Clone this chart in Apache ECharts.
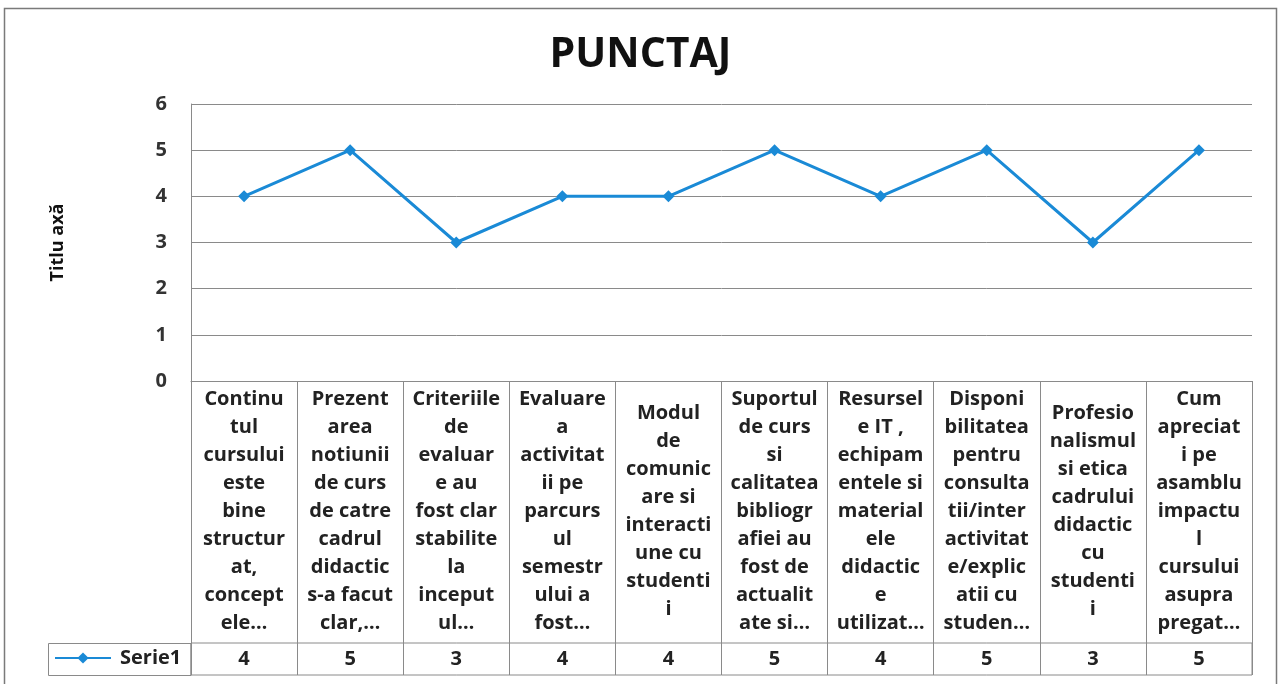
<!DOCTYPE html>
<html>
<head>
<meta charset="utf-8">
<script src="https://cdn.jsdelivr.net/npm/echarts@6/dist/echarts.min.js"></script>
<style>
html,body{margin:0;padding:0;background:#fff;}
#c{width:1281px;height:684px;}
</style>
</head>
<body>
<div id="c"></div>
<script>
const chartTitle = 'PUNCTAJ';
const yAxisTitle = 'Titlu axă';
const seriesName = 'Serie1';
const categories = [
  'Continu\ntul\ncursului\neste\nbine\nstructur\nat,\nconcept\nele…',
  'Prezent\narea\nnotiunii\nde curs\nde catre\ncadrul\ndidactic\ns-a facut\nclar,…',
  'Criteriile\nde\nevaluar\ne au\nfost clar\nstabilite\nla\ninceput\nul…',
  'Evaluare\na\nactivitat\nii pe\nparcurs\nul\nsemestr\nului a\nfost…',
  'Modul\nde\ncomunic\nare si\ninteracti\nune cu\nstudenti\ni',
  'Suportul\nde curs\nsi\ncalitatea\nbibliogr\nafiei au\nfost de\nactualit\nate si…',
  'Resursel\ne IT ,\nechipam\nentele si\nmaterial\nele\ndidactic\ne\nutilizat…',
  'Disponi\nbilitatea\npentru\nconsulta\ntii/inter\nactivitat\ne/explic\natii cu\nstuden…',
  'Profesio\nnalismul\nsi etica\ncadrului\ndidactic\ncu\nstudenti\ni',
  'Cum\napreciat\ni pe\nasamblu\nimpactu\nl\ncursului\nasupra\npregat…'
];
const values = [4, 5, 3, 4, 4, 5, 4, 5, 3, 5];
const yTicks = [0, 1, 2, 3, 4, 5, 6];

const FONT = '"Open Sans", Lato, sans-serif';
const GRIDC = '#8a8a8a';
const LINEC = '#1a8ad6';

const chart = echarts.init(document.getElementById('c'));
chart.setOption({
  backgroundColor: '#fff',
  animation: false,
  title: {
    text: chartTitle, left: 'center', top: 30,
    textStyle: { fontFamily: FONT, fontWeight: 'bold', fontSize: 41, color: '#111' }
  },
  legend: {
    left: 54, top: 648, padding: 0, itemWidth: 56, itemHeight: 14, itemGap: 0,
    data: [seriesName],
    textStyle: { fontFamily: FONT, fontWeight: 'bold', fontSize: 20, color: '#222', padding: [0,0,0,4] }
  },
  grid: [
    { left: 191, right: 29, top: 104, bottom: 303 },
    { left: 191, right: 29, top: 643, bottom: 9, show: true, borderColor: GRIDC, borderWidth: 1 }
  ],
  xAxis: [
    {
      type: 'category', gridIndex: 0, data: categories, boundaryGap: true,
      axisLine: { show: true, lineStyle: { color: GRIDC } },
      axisTick: { show: true, length: 294, lineStyle: { color: GRIDC } },
      axisLabel: {
        interval: 0, margin: 130, verticalAlign: 'middle', lineHeight: 28,
        fontFamily: FONT, fontWeight: 'bold', fontSize: 20, color: '#222'
      }
    },
    {
      type: 'category', gridIndex: 1, data: values.map(String), boundaryGap: true,
      axisLine: { show: false }, axisTick: { show: false },
      axisLabel: {
        interval: 0, inside: true, margin: 16, verticalAlign: 'middle',
        fontFamily: FONT, fontWeight: 'bold', fontSize: 20, color: '#222'
      }
    }
  ],
  yAxis: [
    {
      type: 'value', gridIndex: 0, min: yTicks[0], max: yTicks[yTicks.length - 1], interval: 1,
      name: yAxisTitle, nameLocation: 'middle', nameRotate: 90, nameGap: 124,
      nameTextStyle: { fontFamily: FONT, fontWeight: 'bold', fontSize: 18, color: '#111' },
      axisLine: { show: true, lineStyle: { color: GRIDC } },
      axisTick: { show: false },
      splitLine: { show: true, lineStyle: { color: GRIDC, width: 1 } },
      axisLabel: { margin: 24, fontFamily: FONT, fontWeight: 'bold', fontSize: 20, color: '#333' }
    },
    { type: 'value', gridIndex: 1, show: false, splitLine: { show: false } }
  ],
  graphic: [
    { type: 'rect', shape: { x: 4.5, y: 8.5, width: 1272, height: 700 }, style: { fill: null, stroke: '#7a7a7a', lineWidth: 1.5 }, silent: true, z: -1 },
    { type: 'rect', shape: { x: 48.5, y: 643.5, width: 142.5, height: 32 }, style: { fill: null, stroke: GRIDC, lineWidth: 1 }, silent: true }
  ],
  series: [
    {
      name: seriesName, type: 'line', xAxisIndex: 0, yAxisIndex: 0, data: values,
      symbol: 'diamond', symbolSize: 12,
      lineStyle: { color: LINEC, width: 3 },
      itemStyle: { color: LINEC }
    }
  ]
});
</script>
</body>
</html>
